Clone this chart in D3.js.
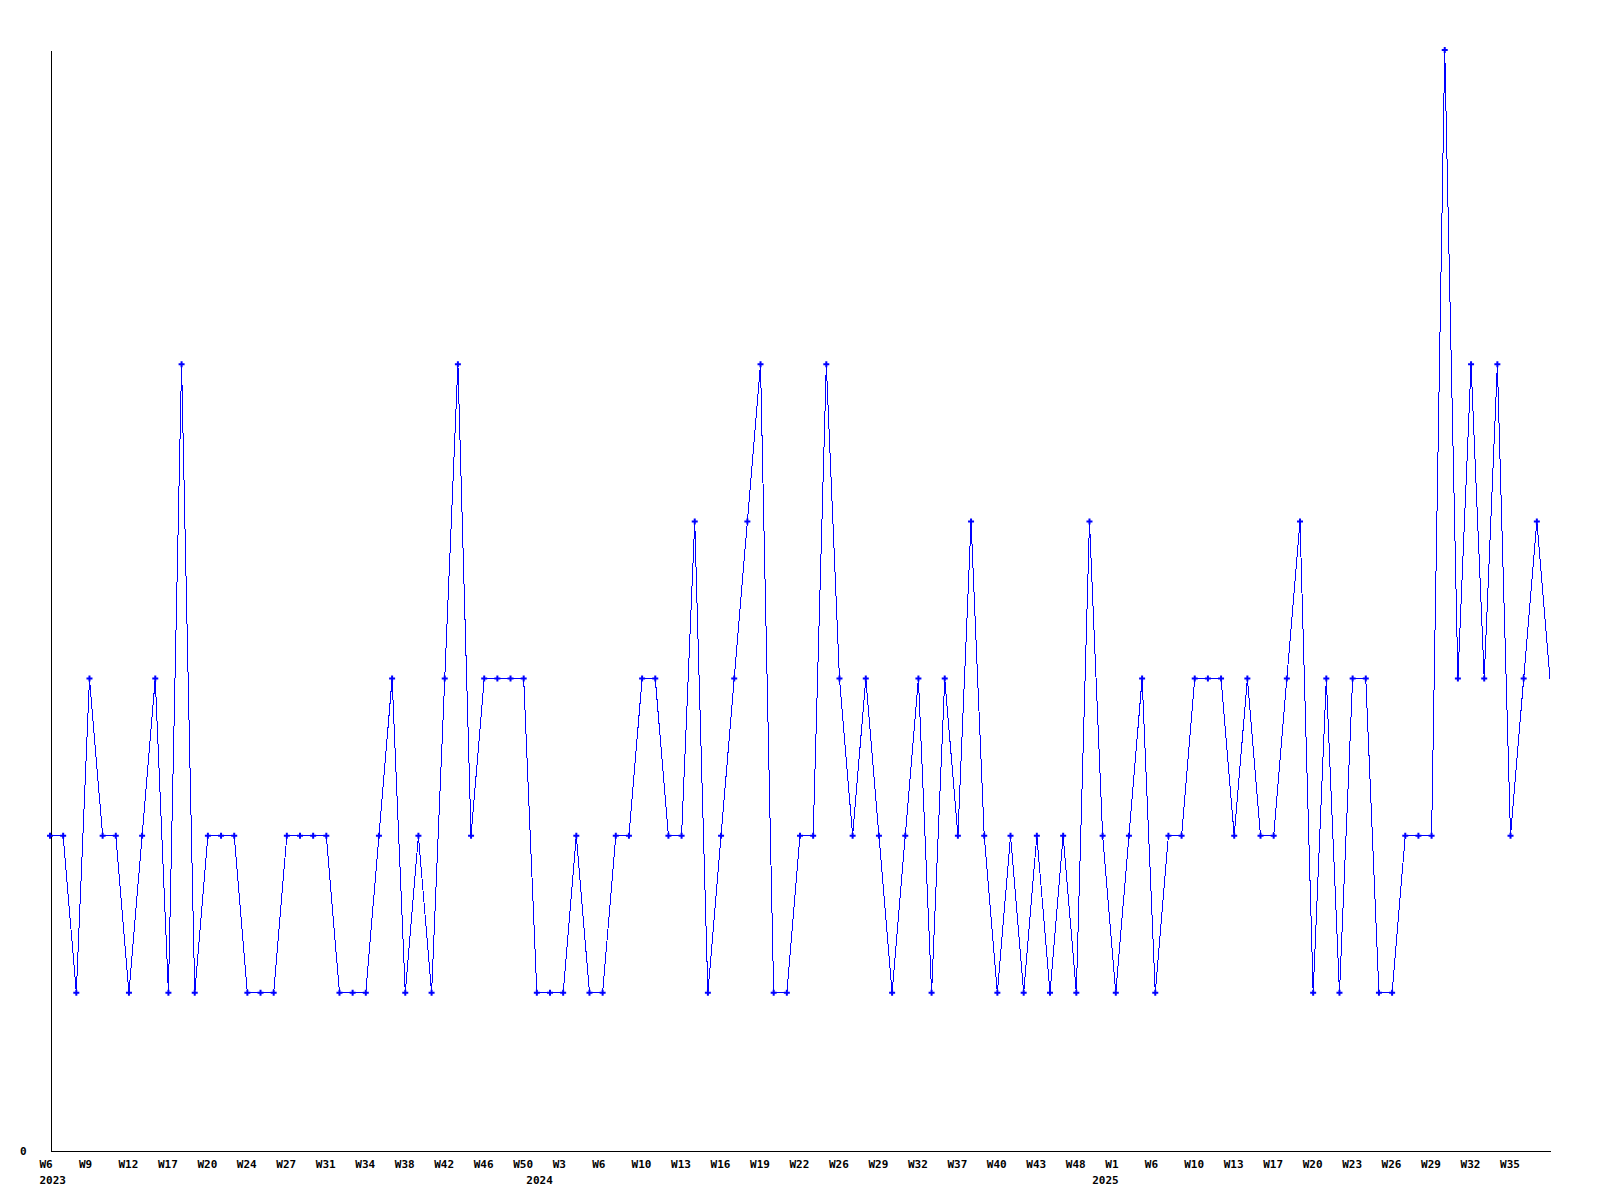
<!DOCTYPE html>
<html>
<head>
<meta charset="utf-8">
<script src="https://cdn.jsdelivr.net/npm/d3@7"></script>
<style>
  body { margin: 0; background: #fff; }
  .axis text { font-family: "DejaVu Sans Mono", monospace; font-weight: bold; font-size: 11px; fill: #000; }
  .axis path { stroke: #000; shape-rendering: crispEdges; }
</style>
</head>
<body>
<script>
// one value per data point (weekly counts)
var values = [
  2, 2, 1, 3, 2, 2, 1, 2, 3, 1, 5, 1, 2, 2, 2, 1, 1, 1, 2, 2,
  2, 2, 1, 1, 1, 2, 3, 1, 2, 1, 3, 5, 2, 3, 3, 3, 3, 1, 1, 1,
  2, 1, 1, 2, 2, 3, 3, 2, 2, 4, 1, 2, 3, 4, 5, 1, 1, 2, 2, 5,
  3, 2, 3, 2, 1, 2, 3, 1, 3, 2, 4, 2, 1, 2, 1, 2, 1, 2, 1, 4,
  2, 1, 2, 3, 1, 2, 2, 3, 3, 3, 2, 3, 2, 2, 3, 4, 1, 3, 1, 3,
  3, 1, 1, 2, 2, 2, 7, 3, 5, 3, 5, 2, 3, 4, 3
];

// week labels, shown on every third point
var weekLabels = [
  "W6", "W9", "W12", "W17", "W20", "W24", "W27", "W31", "W34", "W38",
  "W42", "W46", "W50", "W3", "W6", "W10", "W13", "W16", "W19", "W22",
  "W26", "W29", "W32", "W37", "W40", "W43", "W48", "W1", "W6", "W10",
  "W13", "W17", "W20", "W23", "W26", "W29", "W32", "W35"
];

// first point of each year
var yearLabels = ["2023", "2024", "2025"];
var yearIndex = [0, 37, 80];

var width = 1600;
var height = 1200;
var padLeft = 50, padRight = 1550, padTop = 50, padBottom = 1150;

var svg = d3.select("body").append("svg")
  .attr("width", width)
  .attr("height", height);

var xScale = d3.scaleLinear()
  .domain([0, values.length - 1])
  .range([padLeft, padRight]);

var yScale = d3.scaleLinear()
  .domain([0, d3.max(values)])
  .range([padBottom, padTop]);

var tickIdx = d3.range(0, values.length - 1, 3);

// x axis with week labels
var xAxis = d3.axisBottom(xScale)
  .tickValues(tickIdx)
  .tickSize(0)
  .tickSizeOuter(0)
  .tickPadding(10)
  .tickFormat(function(d, i) { return weekLabels[i]; });

var gx = svg.append("g")
  .attr("class", "axis")
  .attr("transform", "translate(0," + (padBottom + 0.5) + ")")
  .call(xAxis);
gx.selectAll("text").attr("text-anchor", "start").attr("x", -11);

// year row
var yearAxis = d3.axisBottom(xScale)
  .tickValues(yearIndex)
  .tickSize(0)
  .tickPadding(26)
  .tickFormat(function(d, i) { return yearLabels[i]; });

var gYear = svg.append("g")
  .attr("class", "axis")
  .attr("transform", "translate(0," + (padBottom + 0.5) + ")")
  .call(yearAxis);
gYear.select(".domain").remove();
gYear.selectAll("text").attr("text-anchor", "start").attr("x", -11);

// y axis, only zero labelled
var yAxis = d3.axisLeft(yScale)
  .tickValues([0])
  .tickFormat(d3.format("d"))
  .tickSize(0)
  .tickSizeOuter(0)
  .tickPadding(24);

svg.append("g")
  .attr("class", "axis")
  .attr("transform", "translate(" + (padLeft + 0.5) + ",0)")
  .call(yAxis)
  .selectAll("text").attr("dy", "0.4em");

// the line
var line = d3.line()
  .x(function(d, i) { return xScale(i); })
  .y(function(d) { return yScale(d); });

svg.append("path")
  .datum(values)
  .attr("d", line)
  .attr("fill", "none")
  .attr("stroke", "#0000ff")
  .attr("stroke-width", 1)
  .style("shape-rendering", "crispEdges");

// point markers
svg.selectAll(".dot")
  .data(values.slice(0, values.length - 1))
  .enter()
  .append("path")
  .attr("class", "dot")
  .attr("d", d3.symbol(d3.symbolCross).size(20))
  .attr("transform", function(d, i) {
    return "translate(" + xScale(i) + "," + yScale(d) + ")";
  })
  .attr("fill", "#0000ff");
</script>
</body>
</html>
